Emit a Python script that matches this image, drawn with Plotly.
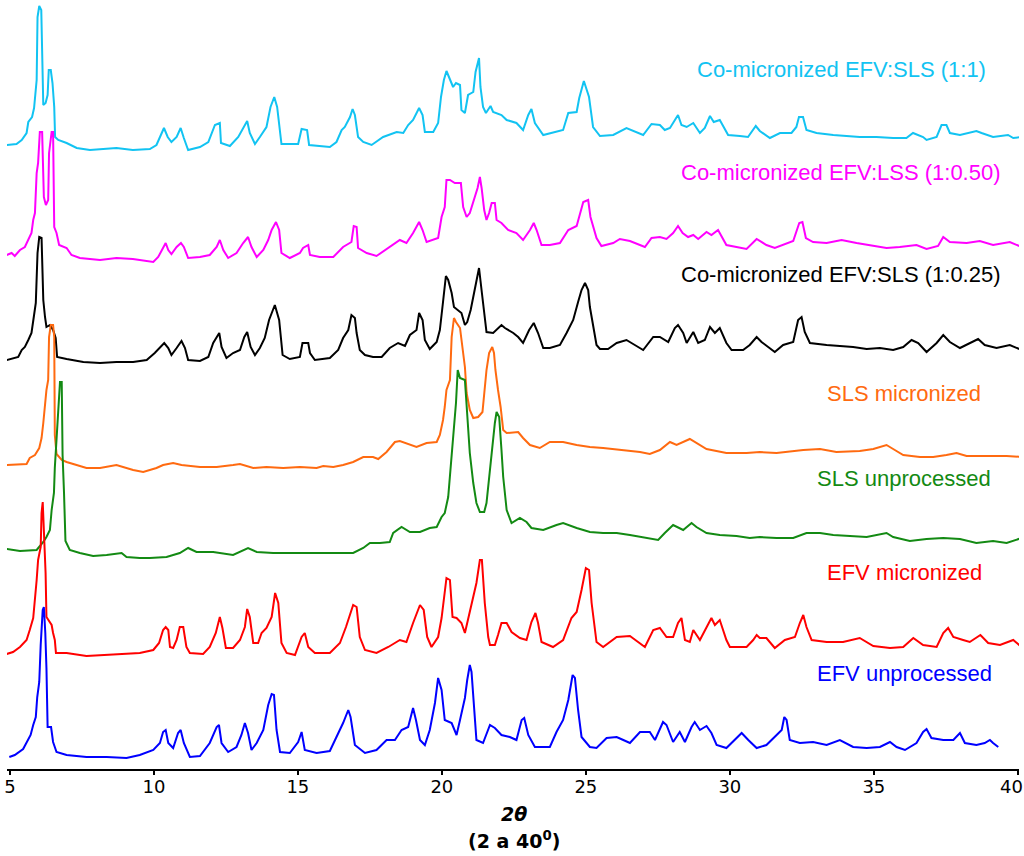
import plotly.graph_objects as go

# ---- data: (2theta, intensity above own baseline) ----
comic_1_1 = [(4.89,7),(5.23,8),(5.41,12),(5.58,19),(5.64,30),(5.77,35),(5.84,44),(5.89,62),(5.93,72),(5.96,135),(6.02,146),(6.09,142),(6.11,122),(6.16,47),(6.24,49),(6.31,57),(6.35,82),(6.42,82),(6.48,69),(6.54,45),(6.57,15),(6.68,12),(6.97,9),(7.32,4),(7.78,2),(8.70,4),(9.27,2),(9.86,3),(10.09,7),(10.27,19),(10.35,24),(10.48,15),(10.61,10),(10.79,15),(10.93,24),(11.04,14),(11.19,2),(11.60,5),(11.89,10),(12.12,27),(12.29,29),(12.33,9),(12.64,6),(12.93,15),(13.16,27),(13.24,31),(13.33,19),(13.51,8),(13.68,15),(13.91,25),(14.05,45),(14.18,55),(14.28,45),(14.43,8),(15.01,8),(15.13,23),(15.32,22),(15.39,7),(16.11,5),(16.34,10),(16.52,22),(16.63,25),(16.81,35),(16.90,43),(16.98,37),(17.09,15),(17.27,10),(17.56,7),(17.96,15),(18.43,20),(18.66,19),(18.83,27),(19.00,32),(19.21,44),(19.33,37),(19.41,20),(19.70,20),(19.87,29),(19.97,55),(20.07,72),(20.16,81),(20.28,72),(20.39,65),(20.49,69),(20.63,67),(20.68,42),(20.80,39),(20.91,57),(21.09,60),(21.17,80),(21.29,94),(21.34,65),(21.43,45),(21.53,39),(21.69,46),(21.78,40),(22.07,37),(22.25,32),(22.59,29),(22.82,22),(23.00,37),(23.11,43),(23.23,29),(23.52,17),(23.98,20),(24.21,22),(24.39,39),(24.68,40),(24.77,54),(24.93,71),(25.11,55),(25.25,25),(25.49,16),(25.95,17),(26.41,24),(26.99,17),(27.28,28),(27.57,27),(27.74,22),(27.92,24),(28.20,37),(28.32,27),(28.50,25),(28.73,29),(28.96,19),(29.13,24),(29.31,36),(29.44,30),(29.65,32),(29.94,17),(30.35,16),(30.63,15),(30.90,26),(31.04,21),(31.39,14),(31.74,19),(32.14,19),(32.31,25),(32.40,35),(32.54,35),(32.66,22),(33.01,19),(33.59,17),(34.05,16),(34.51,15),(35.09,15),(35.67,14),(36.13,14),(36.36,19),(36.71,15),(36.83,12),(37.18,15),(37.35,27),(37.52,27),(37.64,19),(37.99,17),(38.56,21),(38.74,19),(39.14,15),(39.66,17),(39.84,14),(40.13,15)]

comic_1_050 = [(4.89,7),(5.06,9),(5.17,6),(5.35,12),(5.52,15),(5.64,22),(5.75,29),(5.81,42),(5.87,49),(5.93,89),(5.98,99),(6.04,130),(6.12,130),(6.18,65),(6.25,57),(6.33,62),(6.36,109),(6.45,130),(6.50,130),(6.54,35),(6.62,29),(6.71,17),(6.97,14),(7.14,7),(7.43,4),(8.13,2),(8.70,4),(9.27,3),(9.98,0),(10.15,5),(10.32,14),(10.41,19),(10.50,12),(10.61,8),(10.79,15),(10.94,19),(11.04,15),(11.19,4),(11.60,5),(11.94,7),(12.18,15),(12.29,22),(12.41,12),(12.58,4),(12.87,9),(13.10,19),(13.27,25),(13.39,15),(13.57,5),(13.80,12),(13.97,22),(14.09,32),(14.24,40),(14.35,32),(14.43,9),(14.72,4),(15.07,9),(15.18,14),(15.36,17),(15.42,7),(15.76,5),(16.23,5),(16.57,15),(16.86,20),(16.94,36),(17.04,35),(17.09,14),(17.39,9),(17.73,6),(18.14,14),(18.54,22),(18.77,19),(19.00,29),(19.21,40),(19.33,32),(19.47,20),(19.87,24),(19.99,45),(20.10,55),(20.16,82),(20.28,82),(20.45,79),(20.66,79),(20.74,55),(20.86,45),(20.97,49),(21.11,62),(21.24,74),(21.32,85),(21.38,74),(21.47,52),(21.55,42),(21.64,49),(21.73,59),(21.84,59),(21.90,42),(22.07,39),(22.30,32),(22.59,29),(22.82,22),(23.06,32),(23.19,39),(23.29,32),(23.46,17),(23.75,17),(24.10,19),(24.39,32),(24.68,36),(24.91,60),(25.08,62),(25.16,45),(25.37,24),(25.54,16),(25.95,19),(26.18,23),(26.53,21),(27.05,15),(27.28,24),(27.57,25),(27.80,23),(28.03,29),(28.20,36),(28.36,29),(28.55,25),(28.73,27),(28.90,23),(29.19,30),(29.36,27),(29.59,32),(29.88,17),(30.23,15),(30.58,13),(30.93,23),(31.27,17),(31.56,14),(31.85,17),(32.20,21),(32.41,39),(32.52,40),(32.64,24),(32.89,20),(33.36,19),(33.88,22),(34.40,19),(34.86,17),(35.44,14),(35.90,15),(36.48,17),(36.83,13),(37.23,16),(37.41,25),(37.64,20),(38.22,19),(38.68,21),(39.14,17),(39.72,20),(40.13,15)]

comic_1_025 = [(4.89,6),(5.11,8),(5.29,9),(5.41,16),(5.52,19),(5.64,26),(5.75,33),(5.84,51),(5.90,63),(5.96,113),(6.02,129),(6.10,128),(6.16,66),(6.22,49),(6.27,39),(6.39,41),(6.50,36),(6.59,28),(6.64,9),(6.97,7),(7.55,4),(8.13,3),(8.70,4),(9.28,4),(9.75,6),(10.03,13),(10.21,18),(10.36,23),(10.50,18),(10.61,11),(10.79,18),(10.96,25),(11.08,18),(11.19,6),(11.60,5),(11.89,9),(12.06,23),(12.27,33),(12.35,19),(12.52,8),(12.75,13),(12.99,16),(13.14,29),(13.24,34),(13.36,19),(13.51,11),(13.68,18),(13.85,28),(14.00,46),(14.20,61),(14.35,46),(14.47,11),(14.72,7),(15.07,9),(15.16,23),(15.36,23),(15.42,13),(15.59,6),(16.11,8),(16.40,16),(16.57,28),(16.75,36),(16.86,51),(16.98,48),(17.04,33),(17.15,16),(17.33,11),(17.61,9),(17.91,9),(18.19,18),(18.48,23),(18.72,20),(18.89,31),(19.12,36),(19.21,53),(19.33,46),(19.41,26),(19.58,17),(19.82,24),(19.93,36),(20.04,64),(20.14,90),(20.22,86),(20.34,73),(20.42,59),(20.57,56),(20.68,53),(20.80,41),(20.88,44),(21.00,56),(21.11,71),(21.20,83),(21.29,98),(21.39,73),(21.49,46),(21.55,34),(21.78,33),(22.07,41),(22.19,38),(22.48,33),(22.65,29),(22.82,23),(23.03,36),(23.19,43),(23.34,33),(23.52,18),(23.75,18),(24.10,21),(24.33,33),(24.56,46),(24.73,64),(24.85,76),(24.97,83),(25.08,76),(25.14,59),(25.25,39),(25.37,21),(25.49,17),(25.77,17),(26.07,23),(26.41,26),(26.70,21),(26.99,16),(27.34,29),(27.57,29),(27.86,24),(28.09,38),(28.20,41),(28.38,33),(28.50,23),(28.73,34),(28.90,23),(29.13,26),(29.31,39),(29.48,33),(29.65,38),(29.88,23),(30.06,16),(30.46,16),(30.69,21),(30.93,29),(31.10,24),(31.33,19),(31.56,14),(31.85,21),(32.20,24),(32.37,46),(32.49,49),(32.60,34),(32.78,23),(33.36,21),(33.82,20),(34.28,19),(34.75,17),(35.21,18),(35.67,16),(36.02,19),(36.31,26),(36.54,23),(36.83,14),(37.18,23),(37.41,31),(37.64,24),(37.99,18),(38.33,23),(38.62,27),(38.85,21),(39.26,18),(39.72,21),(40.13,16)]

sls_micronized = [(4.89,7),(5.35,8),(5.58,8),(5.69,14),(5.87,17),(6.02,24),(6.10,34),(6.16,49),(6.22,69),(6.27,82),(6.33,92),(6.36,135),(6.42,147),(6.50,147),(6.54,135),(6.56,37),(6.62,18),(6.80,12),(6.97,10),(7.32,7),(7.66,4),(8.13,4),(8.70,7),(9.28,2),(9.63,0),(10.09,4),(10.32,7),(10.67,9),(10.96,7),(11.60,5),(12.18,5),(12.75,7),(12.99,8),(13.45,4),(13.91,5),(14.49,4),(15.07,5),(15.65,4),(15.88,6),(16.23,5),(16.57,7),(16.92,10),(17.27,15),(17.61,15),(17.79,13),(18.08,20),(18.37,30),(18.54,31),(18.89,27),(19.12,25),(19.47,29),(19.82,30),(19.93,37),(20.04,52),(20.10,65),(20.16,82),(20.28,92),(20.34,135),(20.42,154),(20.49,150),(20.63,144),(20.74,122),(20.80,105),(20.86,79),(20.97,62),(21.09,54),(21.26,55),(21.41,60),(21.47,79),(21.55,102),(21.64,119),(21.75,125),(21.81,119),(21.86,102),(21.95,82),(22.04,65),(22.13,42),(22.25,39),(22.65,40),(22.82,34),(23.06,27),(23.40,24),(23.75,30),(24.21,30),(24.68,27),(25.14,25),(25.60,24),(26.30,22),(26.88,20),(27.22,18),(27.57,22),(27.92,30),(28.15,27),(28.61,33),(28.84,29),(29.19,23),(29.88,19),(30.58,19),(31.04,20),(31.62,19),(32.55,22),(33.13,23),(33.70,20),(34.51,21),(34.98,23),(35.44,27),(35.67,23),(36.02,17),(36.60,15),(37.06,15),(37.52,17),(37.87,19),(38.22,16),(38.91,16),(39.61,16),(40.18,15)]

sls_unprocessed = [(4.89,13),(5.35,11),(5.93,12),(6.16,20),(6.27,25),(6.39,32),(6.45,52),(6.53,69),(6.56,94),(6.62,127),(6.68,154),(6.74,180),(6.80,180),(6.83,107),(6.88,69),(6.93,21),(7.08,12),(7.43,9),(7.89,6),(8.36,7),(8.88,9),(9.05,5),(9.51,4),(9.86,4),(10.44,5),(10.90,9),(11.19,14),(11.48,10),(12.06,10),(12.75,7),(13.27,14),(13.57,10),(14.14,9),(14.84,9),(15.65,9),(16.57,9),(16.92,9),(17.27,14),(17.50,19),(17.85,19),(18.19,20),(18.31,29),(18.60,35),(18.89,30),(19.24,30),(19.58,34),(19.82,35),(19.99,45),(20.10,49),(20.22,65),(20.34,105),(20.42,132),(20.49,159),(20.55,192),(20.63,184),(20.80,182),(20.86,159),(20.97,109),(21.09,79),(21.20,59),(21.32,50),(21.47,50),(21.55,59),(21.64,85),(21.76,119),(21.84,139),(21.90,150),(21.99,145),(22.07,112),(22.13,85),(22.25,52),(22.42,39),(22.71,44),(22.94,40),(23.11,34),(23.52,32),(23.98,37),(24.21,39),(24.68,34),(25.14,30),(25.60,29),(26.07,29),(26.53,27),(27.11,24),(27.51,22),(27.74,29),(28.03,37),(28.38,32),(28.67,39),(28.84,35),(29.19,29),(29.65,27),(30.23,26),(30.69,24),(31.04,25),(31.62,24),(32.20,24),(32.66,29),(33.13,29),(33.59,27),(34.28,26),(34.75,25),(35.44,29),(35.67,25),(36.25,21),(36.83,23),(37.41,24),(37.99,23),(38.56,19),(39.14,21),(39.61,19),(40.13,24)]

efv_micronized = [(4.89,8),(5.11,10),(5.35,15),(5.58,22),(5.69,32),(5.81,44),(5.93,82),(5.98,102),(6.07,115),(6.10,149),(6.14,160),(6.18,129),(6.24,89),(6.27,45),(6.39,39),(6.45,37),(6.50,29),(6.56,22),(6.60,9),(6.97,9),(7.66,6),(8.36,7),(9.05,8),(9.51,9),(9.98,12),(10.18,19),(10.32,32),(10.41,35),(10.50,32),(10.56,15),(10.67,14),(10.79,22),(10.90,35),(11.02,35),(11.13,15),(11.25,9),(11.71,8),(11.94,15),(12.15,29),(12.29,45),(12.38,34),(12.50,14),(12.75,14),(12.99,22),(13.16,35),(13.24,53),(13.33,45),(13.45,19),(13.62,19),(13.74,29),(13.91,34),(14.09,45),(14.21,69),(14.32,59),(14.43,19),(14.61,9),(14.90,7),(15.13,25),(15.24,29),(15.36,15),(15.59,9),(16.11,9),(16.46,19),(16.67,35),(16.92,57),(17.04,55),(17.15,25),(17.33,12),(17.73,9),(18.14,15),(18.54,22),(18.77,20),(19.00,39),(19.24,57),(19.37,52),(19.49,25),(19.64,15),(19.87,25),(19.99,44),(20.16,84),(20.28,82),(20.37,45),(20.51,44),(20.68,39),(20.80,29),(20.91,42),(21.09,65),(21.20,79),(21.32,102),(21.39,102),(21.49,59),(21.61,25),(21.67,17),(21.84,17),(21.95,27),(22.07,39),(22.25,39),(22.42,30),(22.71,24),(22.94,22),(23.11,40),(23.25,49),(23.34,39),(23.46,20),(23.86,15),(24.21,22),(24.50,44),(24.68,50),(24.85,72),(25.00,94),(25.11,92),(25.20,59),(25.37,20),(25.60,15),(26.07,25),(26.53,26),(27.05,15),(27.34,32),(27.57,34),(27.80,25),(28.03,25),(28.20,39),(28.32,44),(28.44,22),(28.61,20),(28.73,32),(28.96,22),(29.19,35),(29.36,44),(29.48,37),(29.65,42),(29.88,22),(30.00,15),(30.58,15),(30.81,22),(30.93,27),(31.04,24),(31.27,24),(31.56,14),(31.91,22),(32.26,25),(32.43,39),(32.55,47),(32.66,35),(32.84,22),(33.36,20),(33.93,20),(34.51,24),(34.98,16),(35.56,14),(36.02,15),(36.37,24),(36.71,17),(37.18,15),(37.41,29),(37.58,34),(37.76,25),(38.10,22),(38.33,20),(38.70,27),(38.97,19),(39.38,17),(39.84,22),(40.13,15)]

efv_unprocessed = [(4.98,3),(5.17,5),(5.46,11),(5.72,25),(5.81,35),(5.90,43),(5.95,63),(6.02,78),(6.07,115),(6.14,150),(6.18,153),(6.23,127),(6.27,92),(6.31,33),(6.43,33),(6.50,18),(6.62,8),(6.97,5),(7.66,3),(8.36,3),(9.05,2),(9.51,5),(9.98,10),(10.21,17),(10.32,28),(10.41,30),(10.50,17),(10.67,12),(10.84,27),(10.93,30),(11.04,17),(11.25,3),(11.60,4),(11.94,17),(12.18,33),(12.26,35),(12.35,17),(12.58,8),(12.87,13),(13.04,25),(13.16,37),(13.27,27),(13.39,10),(13.57,17),(13.80,30),(13.97,55),(14.09,66),(14.17,65),(14.26,30),(14.38,8),(14.72,7),(15.01,18),(15.13,28),(15.24,10),(15.65,7),(16.11,9),(16.34,23),(16.57,37),(16.75,50),(16.83,43),(16.98,15),(17.33,7),(17.73,10),(18.08,20),(18.37,20),(18.60,30),(18.83,33),(19.00,52),(19.10,40),(19.24,20),(19.41,15),(19.58,30),(19.76,57),(19.87,82),(19.99,70),(20.10,40),(20.34,37),(20.51,25),(20.63,40),(20.80,62),(20.88,80),(20.97,95),(21.03,88),(21.11,57),(21.20,20),(21.43,17),(21.67,35),(21.84,32),(22.07,25),(22.36,23),(22.59,20),(22.77,40),(22.86,42),(23.00,25),(23.23,13),(23.75,13),(23.98,28),(24.21,40),(24.39,60),(24.54,85),(24.62,82),(24.73,50),(24.85,23),(25.14,13),(25.37,12),(25.72,22),(26.07,23),(26.30,20),(26.53,17),(26.88,28),(27.22,28),(27.40,20),(27.68,38),(27.80,35),(28.03,18),(28.26,28),(28.44,18),(28.67,33),(28.78,38),(28.96,30),(29.19,34),(29.36,27),(29.54,15),(29.88,12),(30.23,22),(30.41,27),(30.64,20),(30.93,12),(31.27,15),(31.56,23),(31.80,30),(31.89,43),(31.97,40),(32.08,20),(32.43,17),(32.89,18),(33.36,15),(33.82,20),(34.28,13),(34.75,12),(35.21,13),(35.56,18),(35.79,13),(36.08,10),(36.48,17),(36.71,28),(36.83,31),(37.00,22),(37.41,20),(37.76,20),(37.99,27),(38.16,17),(38.56,15),(38.85,17),(39.03,20),(39.14,17),(39.32,13)]

series_names = ["Co-micronized EFV:SLS (1:1)", "Co-micronized EFV:LSS (1:0.50)",
                "Co-micronized EFV:SLS (1:0.25)", "SLS micronized", "SLS unprocessed",
                "EFV micronized", "EFV unprocessed"]
series_data = [comic_1_1, comic_1_050, comic_1_025, sls_micronized, sls_unprocessed,
               efv_micronized, efv_unprocessed]
stack_offsets = [617, 507, 403, 297, 207, 107, 9]
tick_values = [5, 10, 15, 20, 25, 30, 35, 40]
# last label nudged inward (as the original chart keeps it inside the frame)
tick_labels = ["5", "10", "15", "20", "25", "30", "35", "40\u2002\u2009"]

# ---- styling ----
colors = ["#12C3F2", "#FF00FF", "#000000", "#FF6A10", "#138A13", "#FF0000", "#0000FF"]
label_pos = [(33.89, 700), (33.85, 597), (33.85, 495), (36.04, 376), (36.04, 291),
             (36.08, 197), (36.06, 96)]

fig = go.Figure()
for name, pts, off, col in zip(series_names, series_data, stack_offsets, colors):
    xs = [p[0] for p in pts]
    ys = [p[1] + off for p in pts]
    fig.add_trace(go.Scatter(x=xs, y=ys, mode="lines", name=name,
                             line=dict(color=col, width=2), showlegend=False))

for name, (lx, ly), col in zip(series_names, label_pos, colors):
    fig.add_annotation(x=lx, y=ly, xref="x", yref="y", text=name, showarrow=False,
                       xanchor="center", yanchor="middle",
                       font=dict(family="Liberation Sans, Arial", size=22, color=col))

fig.add_annotation(x=22.5, y=(769 - 814) / 769, xref="x", yref="paper",
                   text="<b><i>2θ</i></b>", showarrow=False, xanchor="center",
                   yanchor="middle", font=dict(family="DejaVu Sans", size=19, color="black"))
fig.add_annotation(x=22.5, y=(769 - 840) / 769, xref="x", yref="paper",
                   text="<b>(2 a 40<sup>0</sup>)</b>", showarrow=False, xanchor="center",
                   yanchor="middle", font=dict(family="DejaVu Sans", size=19, color="black"))

fig.update_layout(
    width=1024, height=856,
    margin=dict(l=7, r=5, t=0, b=87, autoexpand=False),
    paper_bgcolor="white", plot_bgcolor="white",
    xaxis=dict(range=[4.9, 40.04], tickmode="array", tickvals=tick_values,
               ticktext=tick_labels, ticks="outside", ticklen=4,
               tickwidth=2, tickcolor="black", showline=True, linecolor="black",
               linewidth=2, showgrid=False, zeroline=False, ticklabelstandoff=-4,
               ticklabeloverflow="allow", automargin=False,
               tickfont=dict(family="DejaVu Sans", size=18, color="black")),
    yaxis=dict(range=[0, 769], visible=False, showgrid=False, zeroline=False,
               automargin=False),
)

fig.write_html("out.html", config={"displayModeBar": False},
               post_script="document.body.style.margin='0';")
